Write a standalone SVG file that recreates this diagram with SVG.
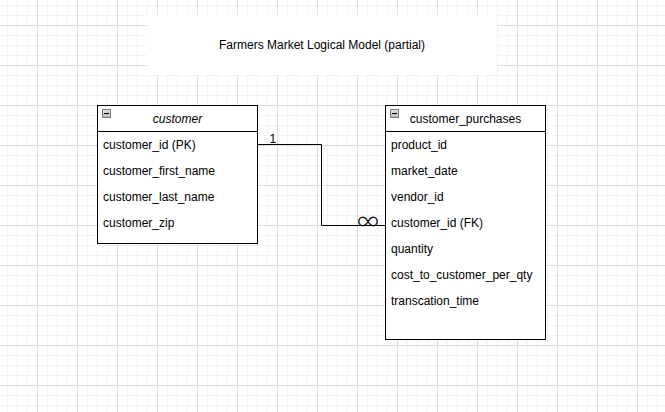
<svg xmlns="http://www.w3.org/2000/svg" width="665" height="412" viewBox="0 0 665 412">
  <defs>
    <pattern id="grid" patternUnits="userSpaceOnUse" x="37" y="25" width="40" height="40">
      <rect x="10" y="0" width="1" height="40" fill="#f3f3f3"/>
      <rect x="20" y="0" width="1" height="40" fill="#f3f3f3"/>
      <rect x="30" y="0" width="1" height="40" fill="#f3f3f3"/>
      <rect x="0" y="10" width="40" height="1" fill="#f3f3f3"/>
      <rect x="0" y="20" width="40" height="1" fill="#f3f3f3"/>
      <rect x="0" y="30" width="40" height="1" fill="#f3f3f3"/>
      <rect x="0" y="0" width="1" height="40" fill="#dedede"/>
      <rect x="0" y="0" width="40" height="1" fill="#dedede"/>
    </pattern>
    <linearGradient id="iconGrad" x1="0" y1="0" x2="0" y2="1">
      <stop offset="0" stop-color="#e4e4e4"/>
      <stop offset="1" stop-color="#b8b8b8"/>
    </linearGradient>
    <g id="minusIcon">
      <rect x="0.5" y="0.5" width="8" height="8" fill="url(#iconGrad)" stroke="#7a7a7a" stroke-width="1"/>
      <rect x="2" y="4" width="5" height="1" fill="#000"/>
    </g>
  </defs>
  <style>
    text { font-family: "Liberation Sans", Arial, sans-serif; font-size: 12px; fill: #000; }
    .box { fill: #fff; stroke: #000; stroke-width: 1; }
    .sep { stroke: #000; stroke-width: 1; fill: none; }
    .edge { stroke: #000; stroke-width: 1; fill: none; }
    .hdr { text-anchor: middle; }
    .italic { font-style: italic; }
    .many { font-family: Lato, "DejaVu Sans", sans-serif; font-weight: 300; font-size: 32px; text-anchor: middle; }
  </style>

  <rect x="0" y="0" width="665" height="412" fill="#ffffff"/>
  <rect x="0" y="0" width="665" height="412" fill="url(#grid)"/>

  <g id="title">
    <rect x="147" y="15" width="350" height="60" fill="#ffffff"/>
    <text x="322" y="49" text-anchor="middle">Farmers Market Logical Model (partial)</text>
  </g>

  <g id="customer">
    <rect class="box" x="97.5" y="105.5" width="160" height="138"/>
    <line class="sep" x1="97.5" y1="131.5" x2="257.5" y2="131.5"/>
    <use href="#minusIcon" x="102" y="109"/>
    <text class="hdr italic" x="177.5" y="123">customer</text>
    <text x="103" y="149">customer_id (PK)</text>
    <text x="103" y="175">customer_first_name</text>
    <text x="103" y="201">customer_last_name</text>
    <text x="103" y="227">customer_zip</text>
  </g>

  <g id="customer_purchases">
    <rect class="box" x="385.5" y="105.5" width="160" height="234"/>
    <line class="sep" x1="385.5" y1="131.5" x2="545.5" y2="131.5"/>
    <use href="#minusIcon" x="390" y="109"/>
    <text class="hdr" x="465.5" y="123">customer_purchases</text>
    <text x="391" y="149">product_id</text>
    <text x="391" y="175">market_date</text>
    <text x="391" y="201">vendor_id</text>
    <text x="391" y="227">customer_id (FK)</text>
    <text x="391" y="253">quantity</text>
    <text x="391" y="279">cost_to_customer_per_qty</text>
    <text x="391" y="305">transcation_time</text>
  </g>

  <g id="connectors">
    <polyline class="edge" points="257.5,144.5 321.5,144.5 321.5,225.5 385.5,225.5"/>
    <text x="269.5" y="143">1</text>
    <text class="many" x="368" y="231">∞</text>
  </g>
</svg>
